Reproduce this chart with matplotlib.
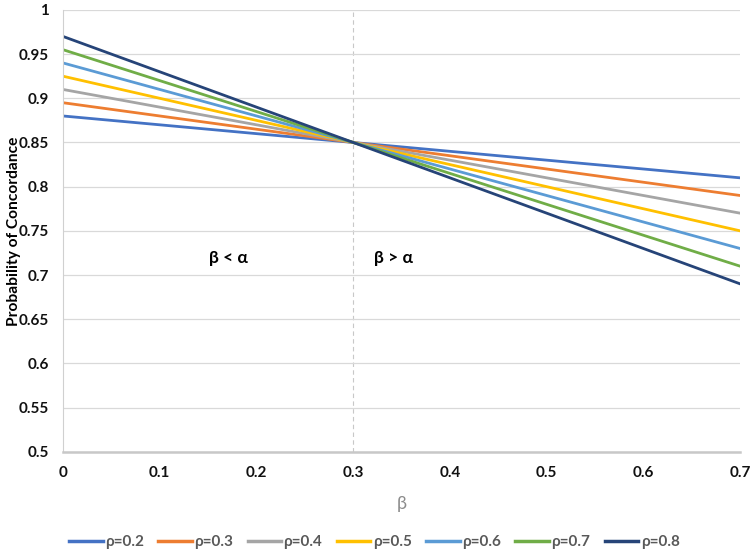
import matplotlib
matplotlib.use("Agg")
import matplotlib.pyplot as plt

# -----------------------------
# Data
# -----------------------------

beta = [0.0, 0.3, 0.7]

rho_labels = ["ρ=0.2", "ρ=0.3", "ρ=0.4", "ρ=0.5", "ρ=0.6", "ρ=0.7", "ρ=0.8"]

concordance = [
    [0.880, 0.85, 0.81],
    [0.895, 0.85, 0.79],
    [0.910, 0.85, 0.77],
    [0.925, 0.85, 0.75],
    [0.940, 0.85, 0.73],
    [0.955, 0.85, 0.71],
    [0.970, 0.85, 0.69],
]

colors = ["#4472C4", "#ED7D31", "#A5A5A5", "#FFC000",
          "#5B9BD5", "#70AD47", "#264478"]

x_ticks = [0, 0.1, 0.2, 0.3, 0.4, 0.5, 0.6, 0.7]
x_tick_labels = ["0", "0.1", "0.2", "0.3", "0.4", "0.5", "0.6", "0.7"]
y_ticks = [0.5, 0.55, 0.6, 0.65, 0.7, 0.75, 0.8, 0.85, 0.9, 0.95, 1]
y_tick_labels = ["0.5", "0.55", "0.6", "0.65", "0.7", "0.75", "0.8",
                 "0.85", "0.9", "0.95", "1"]

plt.rcParams["font.family"] = ["Lato", "DejaVu Sans"]

# -----------------------------
# Plot
# -----------------------------

fig = plt.figure(figsize=(7.5, 5.51), dpi=100)
ax = fig.add_axes([0.084, 0.18, 0.903, 0.802])

for vals, lab, c in zip(concordance, rho_labels, colors):
    ax.plot(beta, vals, color=c, lw=2, label=lab)

# dashed divider at beta = alpha
ax.axvline(0.3, color="#C8C8C8", lw=0.8, ls=(0, (4, 3)), zorder=0)

ax.set_xlim(0, 0.7)
ax.set_ylim(0.5, 1)
ax.set_xticks(x_ticks)
ax.set_xticklabels(x_tick_labels)
ax.set_yticks(y_ticks)
ax.set_yticklabels(y_tick_labels)

ax.grid(axis="y", color="#D9D9D9", lw=0.9)
ax.set_axisbelow(True)
for s in ["top", "right"]:
    ax.spines[s].set_visible(False)
ax.spines["left"].set_color("#D0D0D0")
ax.spines["bottom"].set_color("#C8C8C8")
ax.spines["bottom"].set_linewidth(1.8)
ax.tick_params(length=0, labelsize=11, pad=10, colors="#111111")
for t in ax.get_xticklabels() + ax.get_yticklabels():
    t.set_fontweight("bold")

ax.set_xlabel("β", fontsize=13, color="#8C8C8C", labelpad=12)
ax.set_ylabel("Probability of Concordance", fontsize=11.2, fontweight="bold")
ax.yaxis.set_label_coords(-0.062, 0.5)

ax.text(0.171, 0.719, "β < α", fontsize=12.5, fontweight="bold",
        ha="center", va="center")
ax.text(0.342, 0.719, "β > α", fontsize=12.5, fontweight="bold",
        ha="center", va="center")

leg = fig.legend(loc="center", ncol=7, frameon=False,
                 bbox_to_anchor=(0.499, 0.016), handlelength=2.2,
                 columnspacing=0.95, handletextpad=0.15,
                 prop={"size": 11, "weight": "bold"}, labelcolor="#595959")
for h in leg.get_lines():
    h.set_linewidth(2.5)

fig.savefig("out.png", dpi=100)
